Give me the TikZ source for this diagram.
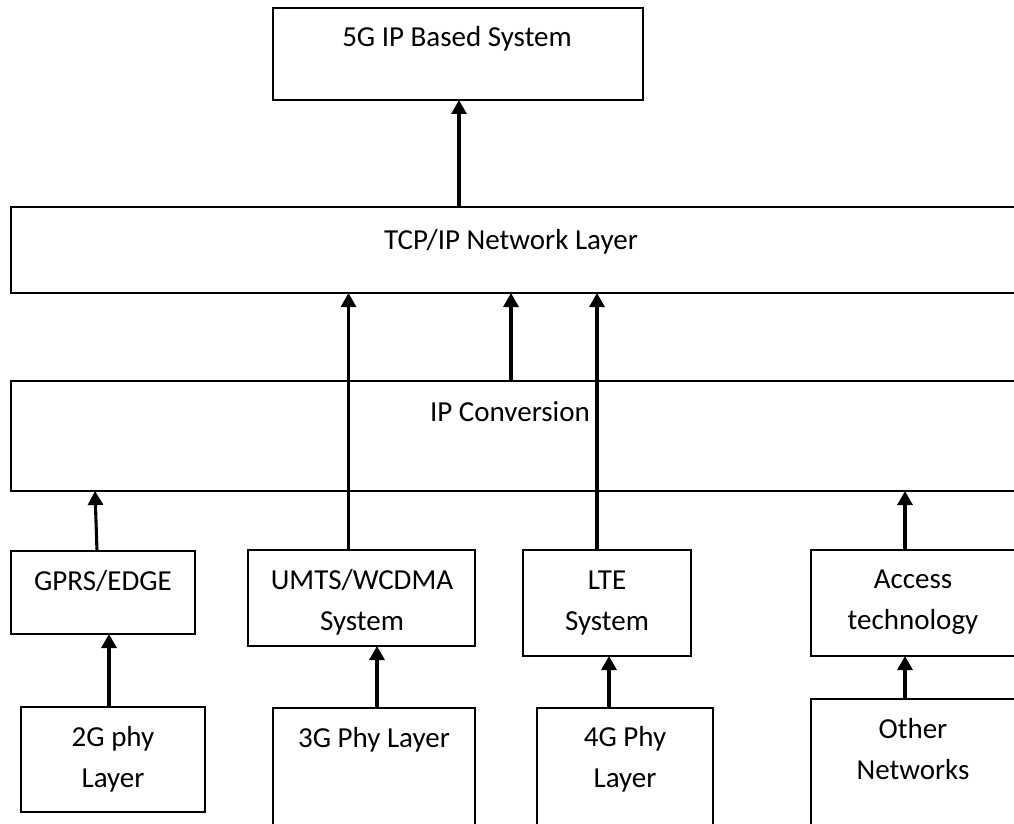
\documentclass[tikz,border=0pt]{standalone}
\usepackage{fontspec}
\setmainfont{Carlito}
\usetikzlibrary{arrows.meta,calc}
\begin{document}
\begin{tikzpicture}[x=1pt,y=-1pt,
  box/.style={draw=black,line width=2.8pt,rectangle,inner sep=0pt,outer sep=0pt,anchor=north west},
  txt/.style={inner sep=0pt,outer sep=0pt,anchor=base,align=center,font=\fontsize{29}{41}\selectfont},
  arr/.style={line width=3.1pt,-{Triangle[length=14pt,width=15pt]}}]
\useasboundingbox (0,0) rectangle (1014,824);
\clip (0,0) rectangle (1014,824);
% boxes
\node[box,minimum width=370pt,minimum height=92pt] (g5) at (273,8) {};
\node[box,minimum width=1005pt,minimum height=86pt] (tcp) at (11,207) {};
\node[box,minimum width=1005pt,minimum height=110pt] (ipc) at (11,381) {};
\node[box,minimum width=184pt,minimum height=83pt] (gprs) at (11,551) {};
\node[box,minimum width=227pt,minimum height=96pt] (umts) at (248,550) {};
\node[box,minimum width=168pt,minimum height=106pt] (lte) at (523,550) {};
\node[box,minimum width=204pt,minimum height=106pt] (acc) at (811,550) {};
\node[box,minimum width=184pt,minimum height=105pt] (p2g) at (21,707) {};
\node[box,minimum width=202pt,minimum height=140pt] (p3g) at (273,708) {};
\node[box,minimum width=176pt,minimum height=140pt] (p4g) at (537,708) {};
\node[box,minimum width=204pt,minimum height=150pt] (oth) at (811,699) {};
% texts (base anchor = baseline of the last line)
\node[txt] (g5t) at (457,47) {5G IP Based System};
\node[txt] (tcpt) at (511,249) {TCP/IP Network Layer};
\node[txt] (ipct) at (510,421) {IP Conversion};
\node[txt] (gprst) at (103,590) {GPRS/EDGE};
\node[txt] (umtst) at (362,630) {UMTS/WCDMA\\System};
\node[txt] (ltet) at (607,630) {LTE\\System};
\node[txt] (acct) at (913,629) {Access\\technology};
\node[txt] (p2gt) at (113,787) {2G phy\\Layer};
\node[txt] (p3gt) at (374,747) {3G Phy Layer};
\node[txt] (p4gt) at (625,787) {4G Phy\\Layer};
\node[txt] (otht) at (913,779) {Other\\Networks};
% arrows
\draw[arr] ([xshift=1pt]g5.south |- tcp.north) -- ([xshift=1pt]g5.south);
\draw[arr] ([xshift=-13pt]umts.north) -- ([xshift=-13pt]umts.north |- tcp.south);
\draw[arr] (ipc.north -| 511,0) -- (tcp.south -| 511,0);
\draw[arr] ([xshift=-10pt]lte.north) -- ([xshift=-10pt]lte.north |- tcp.south);
\draw[arr] ([xshift=-6pt]gprs.north) -- ([xshift=-8pt]gprs.north |- ipc.south);
\draw[arr] ([xshift=-4pt]p2g.north) -- ([xshift=-4pt]p2g.north |- gprs.south);
\draw[arr] ([xshift=3pt]p3g.north) -- ([xshift=3pt]p3g.north |- umts.south);
\draw[arr] ([xshift=-16pt]p4g.north) -- ([xshift=-16pt]p4g.north |- lte.south);
\draw[arr] ([xshift=-8pt]acc.north) -- ([xshift=-8pt]acc.north |- ipc.south);
\draw[arr] ([xshift=-8pt]oth.north) -- ([xshift=-8pt]acc.south);
\end{tikzpicture}
\end{document}
